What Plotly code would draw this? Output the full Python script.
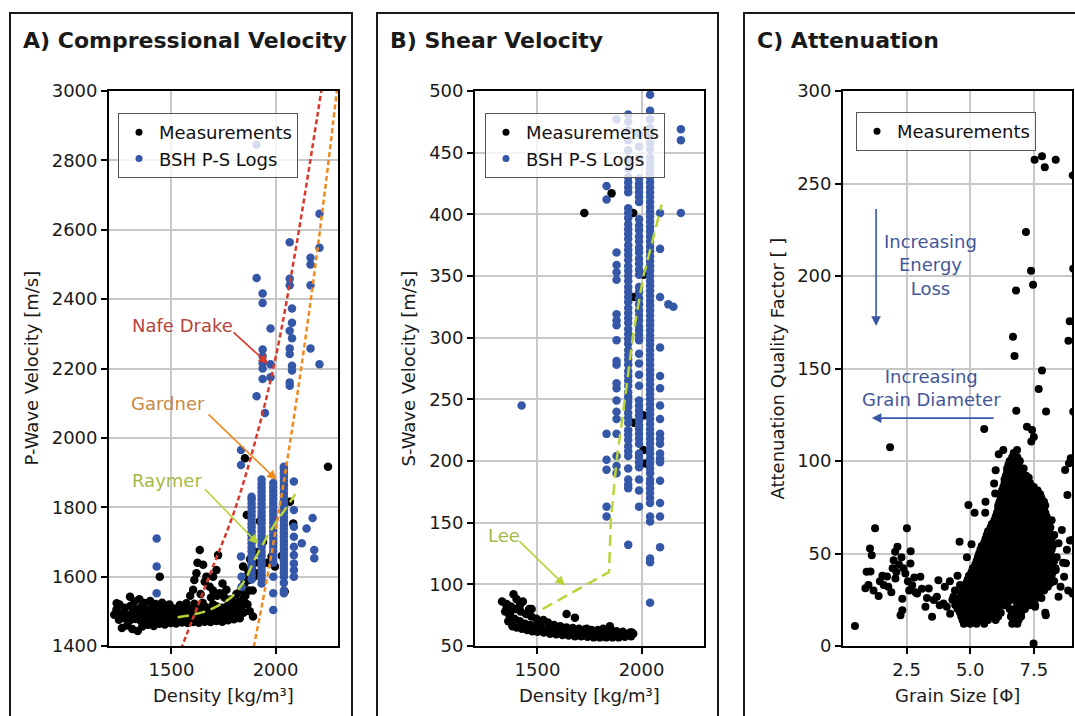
import plotly.graph_objects as go

# ======================= DATA =======================
# ---- Panel A: Compressional velocity vs density ----
a_meas = [
    (1262,1452),(1288,1459),(1312,1449),(1338,1443),(1360,1456),(1388,1461),(1415,1458),(1442,1464),(1468,1462),(1496,1466),
    (1522,1465),(1550,1468),(1578,1466),(1605,1469),(1632,1467),(1660,1470),(1688,1469),(1716,1472),(1744,1470),(1772,1474),
    (1800,1477),(1828,1480),
    (1225,1490),(1248,1476),(1274,1480),(1300,1474),(1326,1478),(1352,1473),(1378,1478),(1404,1475),(1430,1479),(1456,1476),
    (1482,1478),(1508,1475),(1534,1479),(1560,1477),(1586,1480),(1612,1478),(1638,1481),(1664,1479),(1690,1482),(1716,1480),
    (1742,1483),(1768,1482),(1794,1486),(1820,1490),(1846,1496),
    (1236,1505),(1260,1494),(1286,1490),(1312,1495),(1338,1489),(1364,1494),(1390,1490),(1416,1493),(1442,1489),(1468,1494),
    (1494,1491),(1520,1493),(1546,1490),(1572,1494),(1598,1491),(1624,1495),(1650,1492),(1676,1496),(1702,1493),(1728,1497),
    (1754,1495),(1780,1500),(1806,1505),(1832,1512),(1858,1522),
    (1250,1520),(1276,1510),(1302,1515),(1328,1506),(1354,1512),(1380,1505),(1406,1510),(1432,1506),(1458,1509),(1484,1504),
    (1510,1508),(1536,1503),(1562,1507),(1588,1505),(1614,1510),(1640,1506),(1666,1512),(1692,1508),(1718,1514),(1744,1510),
    (1770,1516),(1796,1520),(1822,1528),(1848,1540),(1872,1560),
    (1237,1523),(1301,1542),(1322,1528),(1346,1535),(1372,1524),(1398,1530),(1424,1521),(1455,1525),(1490,1520),(1540,1518),
    (1572,1523),(1610,1522),(1650,1525),(1700,1520),(1755,1540),(1788,1535),(1812,1550),
    (1444,1600),(1604,1562),(1620,1610),(1636,1677),(1652,1634),(1668,1600),(1684,1571),(1716,1619),(1724,1662),(1732,1552),
    (1764,1562),(1640,1550),(1660,1585),(1700,1560),(1745,1580),(1625,1640),(1610,1590),(1590,1545),(1700,1600),(1690,1540),
    (1720,1545),
    (1832,1560),(1844,1629),(1850,1580),(1855,1545),(1862,1600),(1868,1619),(1872,1590),(1878,1650),(1885,1625),(1890,1560),
    (1895,1600),(1900,1640),(1905,1610),(1910,1670),(1892,1485),(1876,1500),(1865,1520),(1840,1500),
    (1853,1941),(2252,1917),(2069,1816),(2085,1753),(1997,1629),(1981,1658),(2044,1557),(1862,1778),(1940,1700),(1925,1760),
    (2030,1660),(1960,1640),
]
a_log_col_rho = [1885, 1933, 1989, 2040]
a_log_col_vp = [
    [1592,1604,1615,1627,1638,1650,1661,1673,1684,1696,1707,1719,1730,1742,1753,1765,1776,1788,1799,1811,1822,1830],
    [1580,1592,1603,1615,1626,1638,1649,1661,1672,1684,1695,1707,1718,1730,1741,1753,1764,1776,1787,1799,1810,1822,
     1833,1845,1856,1868,1880],
    [1504,1552,1600,1640,1651,1663,1674,1686,1697,1709,1720,1732,1743,1755,1766,1778,1789,1801,1812,1824,1835,1847,
     1858,1870],
    [1552,1560,1582,1600,1611,1623,1634,1646,1657,1669,1680,1692,1703,1715,1726,1738,1749,1761,1772,1784,1795,1807,
     1818,1830,1841,1853,1864,1876,1887,1899,1910,1917],
]
a_log_other = [
    (2088,1874),(2088,1792),(2088,1744),(2088,1715),(2088,1686),(2088,1662),(2088,1638),(2088,1619),(2088,1600),
    (2149,1739),(2178,1769),(2186,1677),(2186,1653),(2126,1696),(1834,1965),(1834,1922),(1834,1658),(1837,1600),
    (1837,1571),(1429,1710),(1429,1629),(1429,1552),
    (1909,2461),(1938,2416),(1938,2389),(1976,2315),(1938,2255),(1938,2235),(1938,2215),(1938,2200),(1938,2170),
    (1909,2120),(1949,2072),(1976,2212),(1976,2175),(2068,2564),(2068,2459),(2068,2440),(2079,2373),(2079,2332),
    (2068,2309),(2079,2287),(2068,2258),(2068,2242),(2079,2208),(2079,2194),(2068,2160),(2068,2150),(2168,2519),
    (2168,2500),(2168,2440),(2211,2646),(2211,2548),(2168,2258),(2211,2212),(1909,2845),
]
a_nd_rho = [1545, 1600, 1700, 1800, 1900, 2000, 2100, 2200, 2235]
a_nd_vp = [1390, 1475, 1630, 1785, 1985, 2230, 2555, 2925, 3060]
a_gd_rho = [1895, 1950, 2000, 2050, 2100, 2150, 2200, 2250, 2310]
a_gd_vp = [1397, 1566, 1732, 1912, 2106, 2314, 2536, 2775, 3080]
a_ry_rho = [1530, 1600, 1660, 1720, 1790, 1850, 1900, 1950, 2000, 2050, 2095]
a_ry_vp = [1483, 1490, 1499, 1515, 1542, 1588, 1650, 1705, 1755, 1797, 1838]

# ---- Panel B: Shear velocity vs density ----
b_meas = [
    (1360,70),(1380,66),(1400,65),(1425,64),(1450,63),(1475,62),(1500,61.5),(1530,61),(1560,60),(1590,59.5),(1620,59),
    (1650,58.5),(1680,58),(1710,58),(1740,57.5),(1770,57),(1800,57),(1830,57),(1860,57),(1890,57),(1920,57.5),(1950,58),
    (1345,78),(1365,75),(1390,72),(1415,70),(1440,68),(1465,67),(1490,66),(1515,65),(1545,64),(1575,63),(1605,62.5),
    (1635,62),(1665,61.5),(1695,61),(1725,60.5),(1755,60),(1785,60),(1815,59.5),(1845,59.5),(1875,59),(1905,59),
    (1935,59.5),(1960,60),
    (1330,86),(1352,84),(1372,82),(1385,92),(1395,80),(1420,78),(1445,76),(1470,74),(1495,72),(1520,70),(1550,69),
    (1580,67),(1610,66),(1640,65),(1670,64.5),(1700,64),(1730,63.5),(1760,63),(1790,63),(1820,62.5),(1850,64),(1880,62),
    (1910,61.5),(1945,61),(1955,60.5),
    (1352,82),(1368,77),(1376,72),(1416,83),(1472,80),(1528,71),(1576,66),(1640,76),(1680,73),(1737,64),(1816,64),
    (1848,66),(1945,59),(1953,61),(1400,88),(1430,86),(1460,80),
    (1725,401),(1856,417),(1960,401),(2011,351),(1965,333),(1964,231),(2009,237),(2009,209),(2017,198),
]
b_log_col_rho = [1936, 1988, 2041]
b_log_col_vs = [
    [132,178,181,185,194,204,208,212,217,221,225,231,235,239,244,248,252,256,261,265,269,273,278,282,286,290,295,299,
     303,307,312,316,320,324,329,333,337,341,346,350,354,358,363,367,371,375,380,384,388,392,397,401,405,418,422,426,
     430,437,445,452,460,468,475,481],
    [163,176,185,195,199,203,206,214,218,222,226,229,233,237,241,245,249,261,270,279,287,298,302,306,309,314,318,322,
     327,332,337,341,351,355,360,364,369,373,378,382,387,391,396,410,414,418,422,425,429,445,455,465],
    [85,118,121,151,155,166,170,174,178,182,185,190,194,198,202,206,210,214,218,222,226,230,234,238,242,246,250,254,
     258,262,266,270,274,278,282,286,290,294,298,302,306,310,314,318,322,326,330,334,338,342,346,350,354,358,362,366,
     370,374,378,382,386,390,394,398,402,406,410,414,418,422,426,430,434,438,442,446,453,458,465,470,477,484,497],
]
b_log_other = [
    (1424,245),(1832,423),(1832,412),(1832,222),(1832,201),(1832,193),(1832,163),(1832,155),(1880,369),(1880,359),
    (1880,353),(1880,347),(1880,319),(1880,314),(1880,310),(1880,298),(1880,281),(1880,278),(1880,263),(1880,259),
    (1880,249),(1880,240),(1880,234),(1880,222),(1880,204),(1880,196),(1880,190),(1880,477),(2089,401),(2089,372),
    (2089,333),(2089,292),(2089,269),(2089,259),(2089,245),(2089,234),(2089,222),(2089,218),(2089,214),(2089,206),
    (2089,202),(2089,199),(2089,184),(2089,166),(2089,155),(2089,130),(2129,327),(2153,325),(2189,469),(2189,460),
    (2189,401),
]
b_lee_rho = [1525, 1844, 1852, 1880, 1920, 1960, 2008, 2097]
b_lee_vs = [80, 110, 150, 200, 250, 303, 349, 408]

# ---- Panel C: Attenuation quality factor vs grain size ----
c_left = [
    (0.47,10.8),(0.88,31.2),(0.93,40.2),(1.0,33),(1.06,52.7),(1.08,40.3),(1.13,49.1),(1.2,30),(1.26,63.7),(1.4,27),
    (1.45,35),(1.55,38),(1.6,33),(1.73,37.6),(1.78,32),(1.85,107.4),(1.9,29),(1.95,42),(1.99,46.3),(2.05,51),
    (2.06,36.5),(2.1,40),(2.14,53.7),(2.2,44),(2.26,16.6),(2.3,48),(2.33,25.6),(2.33,19.3),(2.38,42),(2.45,39.2),
    (2.51,63.6),(2.55,35),(2.6,30),(2.65,44.6),(2.66,51.2),(2.72,32.9),(2.8,37),(2.85,29),(2.91,28.4),(3.04,37.4),
    (3.1,31),(3.24,21.2),(3.3,26),(3.37,31.1),(3.5,15.8),(3.57,24.8),(3.69,26.6),(3.75,35.6),(3.8,22),(3.95,23),
    (4.0,32),(4.08,21.2),(4.21,17.5),(4.34,26.6),(4.41,22.1),(4.58,56.4),
]
c_outer = [
    (7.53,262.9),(7.82,264.7),(7.93,258.8),(8.36,262.9),(9.03,254.4),(7.19,223.8),(7.39,202.9),(7.47,195.3),
    (6.80,192.1),(8.91,175.5),(8.86,165),(6.68,167.2),(6.74,156.8),(7.82,148.9),(7.69,138.9),(7.98,126.7),
    (6.81,127.2),(9.05,126.7),(9.05,204),(5.55,117.3),(7.23,118.5),(7.43,116.8),(7.5,113),(7.4,110.5),(6.12,103.7),
    (6.71,104.3),(6.84,106),(4.93,76.2),(5.17,72),(5.59,72),(5.94,87.9),(5.98,82.5),(7.49,1.3),(6.75,15),(4.87,48),
    (5.05,55),(5.6,78),(6.0,95),(6.3,106),(7.1,96),(7.3,91),(7.5,86),(7.65,82),(7.95,76),(8.2,68),(8.3,60),(8.3,35),
    (8.36,41.1),(8.47,55.5),(8.47,26.6),(8.55,32),(8.6,62.7),(8.65,45),(8.69,37.4),(8.76,44.7),(8.8,52),(8.85,30),
    (8.92,57),(9.0,57.3),(9.02,28.4),(8.73,95.2),(8.88,98.8),(8.95,101.5),(8.82,81.6),(8.4,48),(7.97,16.6),
    (7.55,21.2),(4.4,30),(4.3,25),(4.2,35),(4.5,38),(4.6,33),
]
c_core_q = [102, 100, 98, 96, 94, 92, 90, 88, 86, 84, 82, 80, 78, 76, 74, 72, 70, 68, 66, 64, 62, 60, 58, 56, 54,
            52, 50, 48, 46, 44, 42, 40, 38, 36, 34, 32, 30, 28, 26, 24, 22, 20, 18, 16, 14, 12]
c_core_g = [
    [6.65, 6.85],
    [6.55, 6.75, 6.95],
    [6.5, 6.7, 6.9],
    [6.45, 6.6, 6.8, 7.0],
    [6.45, 6.65, 6.85, 7.05],
    [6.4, 6.6, 6.8, 7.0, 7.2],
    [6.35, 6.55, 6.75, 6.95, 7.15],
    [6.35, 6.55, 6.75, 6.95, 7.15, 7.35],
    [6.3, 6.5, 6.7, 6.9, 7.1, 7.3, 7.45],
    [6.25, 6.45, 6.65, 6.85, 7.05, 7.25, 7.45, 7.65],
    [6.2, 6.4, 6.6, 6.8, 7.0, 7.2, 7.4, 7.6, 7.75],
    [6.2, 6.4, 6.6, 6.8, 7.0, 7.2, 7.4, 7.6, 7.8],
    [6.15, 6.35, 6.55, 6.75, 6.95, 7.15, 7.35, 7.55, 7.75, 7.9],
    [6.1, 6.25, 6.45, 6.65, 6.85, 7.05, 7.25, 7.45, 7.65, 7.85],
    [6.1, 6.3, 6.5, 6.7, 6.9, 7.1, 7.3, 7.5, 7.7, 7.9],
    [6.05, 6.15, 6.35, 6.55, 6.75, 6.95, 7.15, 7.35, 7.55, 7.75, 7.95],
    [6.0, 6.2, 6.4, 6.6, 6.8, 7.0, 7.2, 7.4, 7.6, 7.8, 8.0],
    [5.95, 6.1, 6.3, 6.5, 6.7, 6.9, 7.1, 7.3, 7.5, 7.7, 7.9, 8.05],
    [5.85, 6.05, 6.25, 6.45, 6.65, 6.85, 7.05, 7.25, 7.45, 7.65, 7.85, 8.05],
    [5.8, 6.0, 6.2, 6.4, 6.6, 6.8, 7.0, 7.2, 7.4, 7.6, 7.8, 8.0, 8.15],
    [5.7, 5.9, 6.1, 6.3, 6.5, 6.7, 6.9, 7.1, 7.3, 7.5, 7.7, 7.9, 8.1],
    [5.65, 5.85, 6.05, 6.25, 6.45, 6.65, 6.85, 7.05, 7.25, 7.45, 7.65, 7.85, 8.05],
    [5.6, 5.8, 6.0, 6.2, 6.4, 6.6, 6.8, 7.0, 7.2, 7.4, 7.6, 7.8, 8.0, 8.2],
    [5.55, 5.75, 5.95, 6.15, 6.35, 6.55, 6.75, 6.95, 7.15, 7.35, 7.55, 7.75, 7.95, 8.15],
    [5.45, 5.65, 5.85, 6.05, 6.25, 6.45, 6.65, 6.85, 7.05, 7.25, 7.45, 7.65, 7.85, 8.05, 8.25],
    [5.4, 5.6, 5.8, 6.0, 6.2, 6.4, 6.6, 6.8, 7.0, 7.2, 7.4, 7.6, 7.8, 8.0, 8.2],
    [5.35, 5.55, 5.75, 5.95, 6.15, 6.35, 6.55, 6.75, 6.95, 7.15, 7.35, 7.55, 7.75, 7.95, 8.15],
    [5.3, 5.5, 5.7, 5.9, 6.1, 6.3, 6.5, 6.7, 6.9, 7.1, 7.3, 7.5, 7.7, 7.9, 8.1],
    [5.25, 5.45, 5.65, 5.85, 6.05, 6.25, 6.45, 6.65, 6.85, 7.05, 7.25, 7.45, 7.65, 7.85, 8.05, 8.3],
    [5.2, 5.4, 5.6, 5.8, 6.0, 6.2, 6.4, 6.6, 6.8, 7.0, 7.2, 7.4, 7.6, 7.8, 8.0, 8.2],
    [5.1, 5.3, 5.5, 5.7, 5.9, 6.1, 6.3, 6.5, 6.7, 6.9, 7.1, 7.3, 7.5, 7.7, 7.9, 8.1, 8.35],
    [5.05, 5.2, 5.4, 5.6, 5.8, 6.0, 6.2, 6.4, 6.6, 6.8, 7.0, 7.2, 7.4, 7.6, 7.8, 8.0, 8.25],
    [4.95, 5.15, 5.35, 5.55, 5.75, 5.95, 6.15, 6.35, 6.55, 6.75, 6.95, 7.15, 7.35, 7.55, 7.75, 7.95, 8.2],
    [4.9, 5.1, 5.3, 5.5, 5.7, 5.9, 6.1, 6.3, 6.5, 6.7, 6.9, 7.1, 7.3, 7.5, 7.7, 8.0],
    [4.85, 5.05, 5.25, 5.45, 5.65, 5.85, 6.05, 6.25, 6.45, 6.65, 6.85, 7.05, 7.25, 7.45, 7.65, 7.9, 8.15],
    [4.8, 5.0, 5.2, 5.4, 5.6, 5.8, 6.0, 6.2, 6.4, 6.6, 6.8, 7.0, 7.2, 7.4, 7.6, 7.8, 8.05],
    [4.7, 4.9, 5.1, 5.3, 5.5, 5.7, 5.9, 6.1, 6.3, 6.5, 6.7, 6.9, 7.1, 7.3, 7.5, 7.7, 7.9],
    [4.65, 4.9, 5.1, 5.3, 5.5, 5.7, 5.9, 6.1, 6.3, 6.5, 6.7, 6.9, 7.1, 7.3, 7.5, 7.7],
    [4.6, 4.8, 5.0, 5.2, 5.4, 5.6, 5.8, 6.0, 6.2, 6.4, 6.6, 6.8, 7.0, 7.2, 7.4, 7.6, 7.8],
    [4.6, 4.85, 5.05, 5.25, 5.45, 5.65, 5.85, 6.05, 6.25, 6.5, 6.8, 7.0, 7.25, 7.45],
    [4.55, 4.75, 4.95, 5.15, 5.35, 5.55, 5.75, 5.95, 6.15, 6.35, 6.9, 7.1, 7.35, 7.55],
    [4.5, 4.7, 4.9, 5.1, 5.3, 5.5, 5.7, 5.9, 6.1, 6.55, 6.75, 6.95, 7.15],
    [4.6, 4.8, 5.0, 5.2, 5.4, 5.6, 5.8, 6.0, 6.2, 6.65, 6.85, 7.0, 7.95],
    [4.65, 4.85, 5.05, 5.25, 5.45, 5.65, 5.9, 6.1, 6.6, 6.8, 7.0],
    [4.7, 4.9, 5.1, 5.3, 5.5, 5.7, 6.0, 6.7, 6.9],
    [4.75, 5.0, 5.25, 5.55, 6.65, 6.85],
]

# tick values
a_xticks = [1500, 2000]
a_yticks = [1400, 1600, 1800, 2000, 2200, 2400, 2600, 2800, 3000]
b_yticks = [50, 100, 150, 200, 250, 300, 350, 400, 450, 500]
c_xticks = [2.5, 5.0, 7.5]
c_yticks = [0, 50, 100, 150, 200, 250, 300]

# ======================= STYLE =======================
W, H = 1075, 716
FONT = "DejaVu Sans"
BLACK = "#000000"
BLUE = "#3557a8"
RED = "#d9382c"
ORANGE = "#f08a1c"
YGREEN = "#b8d437"
ARROWBLUE = "#3a57a5"
MS_AB = 8.5
MS_C = 8


def fx(p):
    return p / W


def fy(p):
    return 1 - p / H


def unzip(pairs):
    return [p[0] for p in pairs], [p[1] for p in pairs]


def columns(col_x, col_vals):
    xs, ys = [], []
    for x, vals in zip(col_x, col_vals):
        xs += [x] * len(vals)
        ys += vals
    return xs, ys


fig = go.Figure()

# ---- Panel A traces ----
ax_, ay_ = unzip(a_meas)
fig.add_trace(go.Scatter(x=ax_, y=ay_, mode="markers", marker=dict(color=BLACK, size=MS_AB),
                         showlegend=False, xaxis="x", yaxis="y"))
lx1, ly1 = columns(a_log_col_rho, a_log_col_vp)
lx2, ly2 = unzip(a_log_other)
fig.add_trace(go.Scatter(x=lx1 + lx2, y=ly1 + ly2, mode="markers", marker=dict(color=BLUE, size=MS_AB),
                         showlegend=False, xaxis="x", yaxis="y"))
fig.add_trace(go.Scatter(x=a_nd_rho, y=a_nd_vp, mode="lines", line=dict(color=RED, width=2.5, dash="5px,3px"),
                         showlegend=False, xaxis="x", yaxis="y", line_shape="spline"))
fig.add_trace(go.Scatter(x=a_gd_rho, y=a_gd_vp, mode="lines", line=dict(color=ORANGE, width=2.5, dash="5px,3px"),
                         showlegend=False, xaxis="x", yaxis="y", line_shape="spline"))
fig.add_trace(go.Scatter(x=a_ry_rho, y=a_ry_vp, mode="lines", line=dict(color=YGREEN, width=2.5, dash="11px,6px"),
                         showlegend=False, xaxis="x", yaxis="y", line_shape="spline"))

# ---- Panel B traces ----
bx_, by_ = unzip(b_meas)
fig.add_trace(go.Scatter(x=bx_, y=by_, mode="markers", marker=dict(color=BLACK, size=MS_AB),
                         showlegend=False, xaxis="x2", yaxis="y2"))
bl1x, bl1y = columns(b_log_col_rho, b_log_col_vs)
bl2x, bl2y = unzip(b_log_other)
fig.add_trace(go.Scatter(x=bl1x + bl2x, y=bl1y + bl2y, mode="markers", marker=dict(color=BLUE, size=MS_AB),
                         showlegend=False, xaxis="x2", yaxis="y2"))
fig.add_trace(go.Scatter(x=b_lee_rho, y=b_lee_vs, mode="lines", line=dict(color=YGREEN, width=2.5, dash="11px,6px"),
                         showlegend=False, xaxis="x2", yaxis="y2"))

# ---- Panel C traces ----
cx1, cy1 = unzip(c_left)
cx2, cy2 = unzip(c_outer)
cx3, cy3 = [], []
for q, row in zip(c_core_q, c_core_g):
    cx3 += row
    cy3 += [q] * len(row)
fig.add_trace(go.Scatter(x=cx1 + cx2 + cx3, y=cy1 + cy2 + cy3, mode="markers",
                         marker=dict(color=BLACK, size=MS_C), showlegend=False, xaxis="x3", yaxis="y3"))

# ---- Legend entries ----
fig.add_trace(go.Scatter(x=[None], y=[None], mode="markers", marker=dict(color=BLACK, size=7),
                         name="Measurements", legend="legend", xaxis="x", yaxis="y"))
fig.add_trace(go.Scatter(x=[None], y=[None], mode="markers", marker=dict(color=BLUE, size=7),
                         name="BSH P-S Logs", legend="legend", xaxis="x", yaxis="y"))
fig.add_trace(go.Scatter(x=[None], y=[None], mode="markers", marker=dict(color=BLACK, size=7),
                         name="Measurements", legend="legend2", xaxis="x2", yaxis="y2"))
fig.add_trace(go.Scatter(x=[None], y=[None], mode="markers", marker=dict(color=BLUE, size=7),
                         name="BSH P-S Logs", legend="legend2", xaxis="x2", yaxis="y2"))
fig.add_trace(go.Scatter(x=[None], y=[None], mode="markers", marker=dict(color=BLACK, size=7),
                         name="Measurements", legend="legend3", xaxis="x3", yaxis="y3"))

axis_common = dict(showline=True, linecolor="black", linewidth=1.8, mirror=True, ticks="outside",
                   ticklen=6, tickwidth=1.5, tickcolor="black", showgrid=True, gridcolor="#c8c8c8",
                   gridwidth=1.5, zeroline=False, automargin=False,
                   tickfont=dict(family=FONT, size=18, color="#1a1a1a"))

ydom = [fy(646), fy(91)]
legend_common = dict(xanchor="left", yanchor="top", bgcolor="rgba(255,255,255,0.8)", bordercolor="#555555",
                     borderwidth=1, font=dict(family=FONT, size=18, color="#111111"), tracegroupgap=0,
                     itemwidth=30)

fig.update_layout(
    width=W, height=H, margin=dict(l=0, r=0, t=0, b=0, pad=0, autoexpand=False),
    paper_bgcolor="white", plot_bgcolor="white", autosize=False,
    showlegend=True,
    xaxis=dict(axis_common, domain=[fx(109), fx(338)], range=[1200, 2300], tickvals=a_xticks, anchor="y"),
    yaxis=dict(axis_common, domain=ydom, range=[1400, 3000], tickvals=a_yticks, anchor="x"),
    xaxis2=dict(axis_common, domain=[fx(475), fx(704)], range=[1200, 2300], tickvals=a_xticks, anchor="y2"),
    yaxis2=dict(axis_common, domain=ydom, range=[50, 500], tickvals=b_yticks, anchor="x2"),
    xaxis3=dict(axis_common, domain=[fx(843), fx(1072)], range=[0, 9.0], tickvals=c_xticks,
                ticktext=["2.5", "5.0", "7.5"], anchor="y3"),
    yaxis3=dict(axis_common, domain=ydom, range=[0, 300], tickvals=c_yticks, anchor="x3"),
    legend=dict(legend_common, x=fx(118), y=fy(113)),
    legend2=dict(legend_common, x=fx(485), y=fy(113)),
    legend3=dict(legend_common, x=fx(856), y=fy(112)),
)

# ---- Panel frames ----
for x0, x1 in [(10, 352), (377, 718), (744, 1200)]:
    fig.add_shape(type="rect", xref="paper", yref="paper", x0=fx(x0), x1=fx(x1), y0=-0.2, y1=fy(13),
                  line=dict(color="#1a1a1a", width=2), fillcolor="rgba(0,0,0,0)", layer="below")

ann = []
# titles
for txt, x in [("A) Compressional Velocity", 21), ("B) Shear Velocity", 388), ("C) Attenuation", 755)]:
    ann.append(dict(text="<b>%s</b>" % txt, x=fx(x), y=fy(41), xref="paper", yref="paper", xanchor="left",
                    yanchor="middle", showarrow=False, font=dict(family=FONT, size=22, color="#1a1a1a")))
# axis titles
label_font = dict(family=FONT, size=18, color="#1a1a1a")
for txt, x in [("P-Wave Velocity [m/s]", 31), ("S-Wave Velocity [m/s]", 408),
               ("Attenuation Quality Factor [ ]", 777)]:
    ann.append(dict(text=txt, x=fx(x), y=fy(368.5), xref="paper", yref="paper", xanchor="center",
                    yanchor="middle", textangle=-90, showarrow=False, font=label_font))
for txt, x in [("Density [kg/m³]", 223.5), ("Density [kg/m³]", 589.5), ("Grain Size [Φ]", 957.5)]:
    ann.append(dict(text=txt, x=fx(x), y=fy(695), xref="paper", yref="paper", xanchor="center",
                    yanchor="middle", showarrow=False, font=label_font))

# model labels and arrows, panel A
labels_a = [("Nafe Drake", 1553, 2324, "#b5453a", RED, 1791, 2308, 1965, 2213),
            ("Gardner", 1483, 2099, "#c8873f", ORANGE, 1671, 2072, 2005, 1879),
            ("Raymer", 1479, 1876, "#a6ba45", YGREEN, 1653, 1857, 1917, 1694)]
for txt, tx, ty, tcol, acol, x0, y0, x1, y1 in labels_a:
    ann.append(dict(text=txt, x=tx, y=ty, xref="x", yref="y", showarrow=False,
                    font=dict(family=FONT, size=18, color=tcol)))
    ann.append(dict(text="", x=x1, y=y1, ax=x0, ay=y0, xref="x", yref="y", axref="x", ayref="y",
                    showarrow=True, arrowhead=2, arrowsize=1.2, arrowwidth=1.6, arrowcolor=acol))
# panel B
ann.append(dict(text="Lee", x=1339, y=140, xref="x2", yref="y2", showarrow=False,
                font=dict(family=FONT, size=18, color="#a6ba45")))
ann.append(dict(text="", x=1632, y=99, ax=1407, ay=136, xref="x2", yref="y2", axref="x2", ayref="y2",
                showarrow=True, arrowhead=2, arrowsize=1.2, arrowwidth=1.6, arrowcolor=YGREEN))
# panel C
ann.append(dict(text="Increasing<br>Energy<br>Loss", x=3.43, y=206, xref="x3", yref="y3", showarrow=False,
                align="center", font=dict(family=FONT, size=18, color="#44579a")))
ann.append(dict(text="", x=1.30, y=173, ax=1.30, ay=237, xref="x3", yref="y3", axref="x3", ayref="y3",
                showarrow=True, arrowhead=2, arrowsize=1.2, arrowwidth=1.6, arrowcolor=ARROWBLUE))
ann.append(dict(text="Increasing<br>Grain Diameter", x=3.46, y=139.5, xref="x3", yref="y3", showarrow=False,
                align="center", font=dict(family=FONT, size=18, color="#44579a")))
ann.append(dict(text="", x=1.13, y=123.2, ax=5.98, ay=123.2, xref="x3", yref="y3", axref="x3", ayref="y3",
                showarrow=True, arrowhead=2, arrowsize=1.2, arrowwidth=1.6, arrowcolor=ARROWBLUE))

fig.update_layout(annotations=ann)
fig.write_html("out.html")
